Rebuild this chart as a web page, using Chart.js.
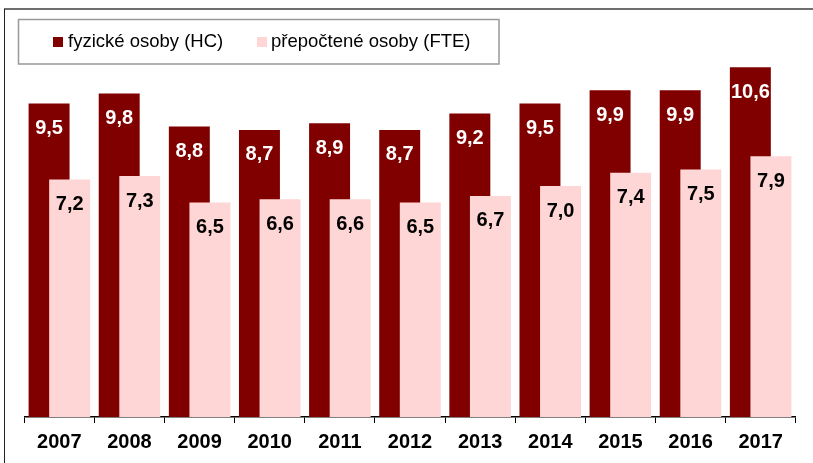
<!DOCTYPE html>
<html>
<head>
<meta charset="utf-8">
<script src="https://cdn.jsdelivr.net/npm/chart.js@4"></script>
<style>
html,body{margin:0;padding:0;background:#fff;}
#wrap{width:813px;height:463px;position:relative;}
</style>
</head>
<body>
<div id="wrap"><canvas id="c" width="813" height="463"></canvas></div>
<script>
const years = ['2007','2008','2009','2010','2011','2012','2013','2014','2015','2016','2017'];
const hcValues = [9.5, 9.8, 8.8, 8.7, 8.9, 8.7, 9.2, 9.5, 9.9, 9.9, 10.6];
const fteValues = [7.2, 7.3, 6.5, 6.6, 6.6, 6.5, 6.7, 7.0, 7.4, 7.5, 7.9];
const seriesLabels = ['fyzické osoby (HC)', 'přepočtené osoby (FTE)'];
const seriesColors = ['#800000', '#FFD6D6'];
const labelColors = ['#ffffff', '#000000'];

const FONT = '"Liberation Sans", Arial, sans-serif';
const fmt = v => v.toFixed(1).replace('.', ',');

const orderedDraw = {
  id: 'orderedDraw',
  beforeDraw(chart) {
    const ctx = chart.ctx;
    ctx.save();
    ctx.strokeStyle = '#6e6e6e';
    ctx.lineWidth = 2;
    ctx.beginPath();
    ctx.moveTo(4, 9); ctx.lineTo(813, 9);
    ctx.stroke();
    ctx.strokeStyle = '#222';
    ctx.lineWidth = 1;
    ctx.beginPath();
    ctx.moveTo(4.5, 9); ctx.lineTo(4.5, 463);
    ctx.stroke();
    ctx.restore();
  },
  beforeDatasetsDraw(chart) {
    const ctx = chart.ctx;
    for (let i = 0; i < chart.data.datasets.length; i++) {
      const meta = chart.getDatasetMeta(i);
      meta.controller.draw();
    }
    ctx.save();
    ctx.font = 'bold 20px ' + FONT;
    ctx.textAlign = 'center';
    ctx.textBaseline = 'middle';
    for (let i = 0; i < chart.data.datasets.length; i++) {
      const meta = chart.getDatasetMeta(i);
      const ds = chart.data.datasets[i];
      ctx.fillStyle = labelColors[i];
      meta.data.forEach((bar, j) => {
        ctx.fillText(fmt(ds.data[j]), bar.x, bar.y + 25);
      });
    }
    ctx.restore();
    return false;
  },
  afterDraw(chart) {
    const ctx = chart.ctx;
    ctx.save();
    ctx.fillStyle = '#fff';
    ctx.fillRect(18, 19, 481, 45);
    ctx.strokeStyle = '#999';
    ctx.lineWidth = 1.5;
    ctx.strokeRect(18.5, 19.5, 480.5, 44.5);
    ctx.font = '18.5px ' + FONT;
    ctx.textBaseline = 'middle';
    ctx.textAlign = 'left';
    const items = [{sx: 53, tx: 68}, {sx: 257, tx: 271}];
    items.forEach((it, i) => {
      ctx.fillStyle = seriesColors[i];
      ctx.fillRect(it.sx, 37, 10, 10);
      ctx.fillStyle = '#000';
      ctx.fillText(seriesLabels[i], it.tx, 42);
    });
    ctx.restore();
  }
};

new Chart(document.getElementById('c'), {
  type: 'bar',
  data: {
    labels: years,
    datasets: [
      {label: seriesLabels[0], data: hcValues, backgroundColor: seriesColors[0], borderWidth: 0},
      {label: seriesLabels[1], data: fteValues, backgroundColor: seriesColors[1], borderWidth: 0}
    ]
  },
  options: {
    responsive: false,
    animation: false,
    devicePixelRatio: 1,
    categoryPercentage: 0.587,
    barPercentage: 1.99,
    layout: {padding: {left: 24.3, right: 17.3, top: 21, bottom: 2}},
    plugins: {legend: {display: false}, tooltip: {enabled: false}},
    scales: {
      x: {
        grid: {display: true, drawOnChartArea: false, drawTicks: true, tickLength: 6, color: '#000', offset: true},
        border: {display: true, color: '#000', width: 1.5},
        ticks: {color: '#000', font: {family: FONT, size: 20, weight: 'bold'}, padding: 7}
      },
      y: {display: false, min: 0, max: 12}
    }
  },
  plugins: [orderedDraw]
});
</script>
</body>
</html>
